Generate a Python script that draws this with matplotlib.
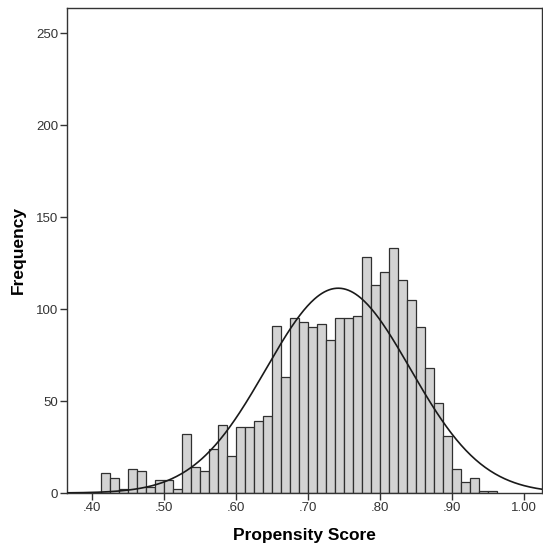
import numpy as np
import matplotlib
matplotlib.use("Agg")
import matplotlib.pyplot as plt

# histogram: bins of width .0125 starting at .4125
bin_start = 0.4125
bin_width = 0.0125
counts = [11, 8, 2, 13, 12, 3, 7, 7, 2, 32, 14, 12, 24, 37, 20, 36, 36, 39, 42, 91,
          63, 95, 93, 90, 92, 83, 95, 95, 96, 128, 113, 120, 133, 116, 105, 90, 68, 49,
          31, 13, 6, 8, 1, 1]

# normal curve parameters (as SPSS overlays it)
curve_mean = 0.742
curve_sd = 0.100

xticks = [0.40, 0.50, 0.60, 0.70, 0.80, 0.90, 1.00]
xticklabels = [".40", ".50", ".60", ".70", ".80", ".90", "1.00"]
yticks = [0, 50, 100, 150, 200, 250]

plt.rcParams['font.family'] = ['Liberation Sans', 'DejaVu Sans']

fig = plt.figure(figsize=(5.43, 5.5), dpi=100)
ax = fig.add_axes([67 / 543, 57 / 550, 475 / 543, 485 / 550])

edges = bin_start + bin_width * np.arange(len(counts))
ax.bar(edges, counts, width=bin_width, align='edge', color='#d3d3d3',
       edgecolor='#303030', linewidth=0.9, zorder=2)

n = sum(counts)
xs = np.linspace(0.36, 1.03, 400)
ys = n * bin_width / (curve_sd * np.sqrt(2 * np.pi)) * np.exp(-0.5 * ((xs - curve_mean) / curve_sd) ** 2)
ax.plot(xs, ys, color='#1a1a1a', linewidth=1.2, zorder=3)

ax.set_xlim(0.3658, 1.0247)
ax.set_ylim(0, 263.6)
ax.set_xticks(xticks)
ax.set_xticklabels(xticklabels)
ax.set_yticks(yticks)
ax.tick_params(direction='out', length=5, width=1, colors='#333333', labelsize=9.5,
               labelcolor='#333333', pad=1.5)
for s in ax.spines.values():
    s.set_color('#333333')
    s.set_linewidth(1)

ax.set_xlabel("Propensity Score", fontsize=12.5, fontweight='bold')
ax.set_ylabel("Frequency", fontsize=12.5, fontweight='bold')
ax.xaxis.set_label_coords(0.5, -0.073)
ax.yaxis.set_label_coords(-0.086, 0.5)

fig.savefig("out.png", dpi=100)
